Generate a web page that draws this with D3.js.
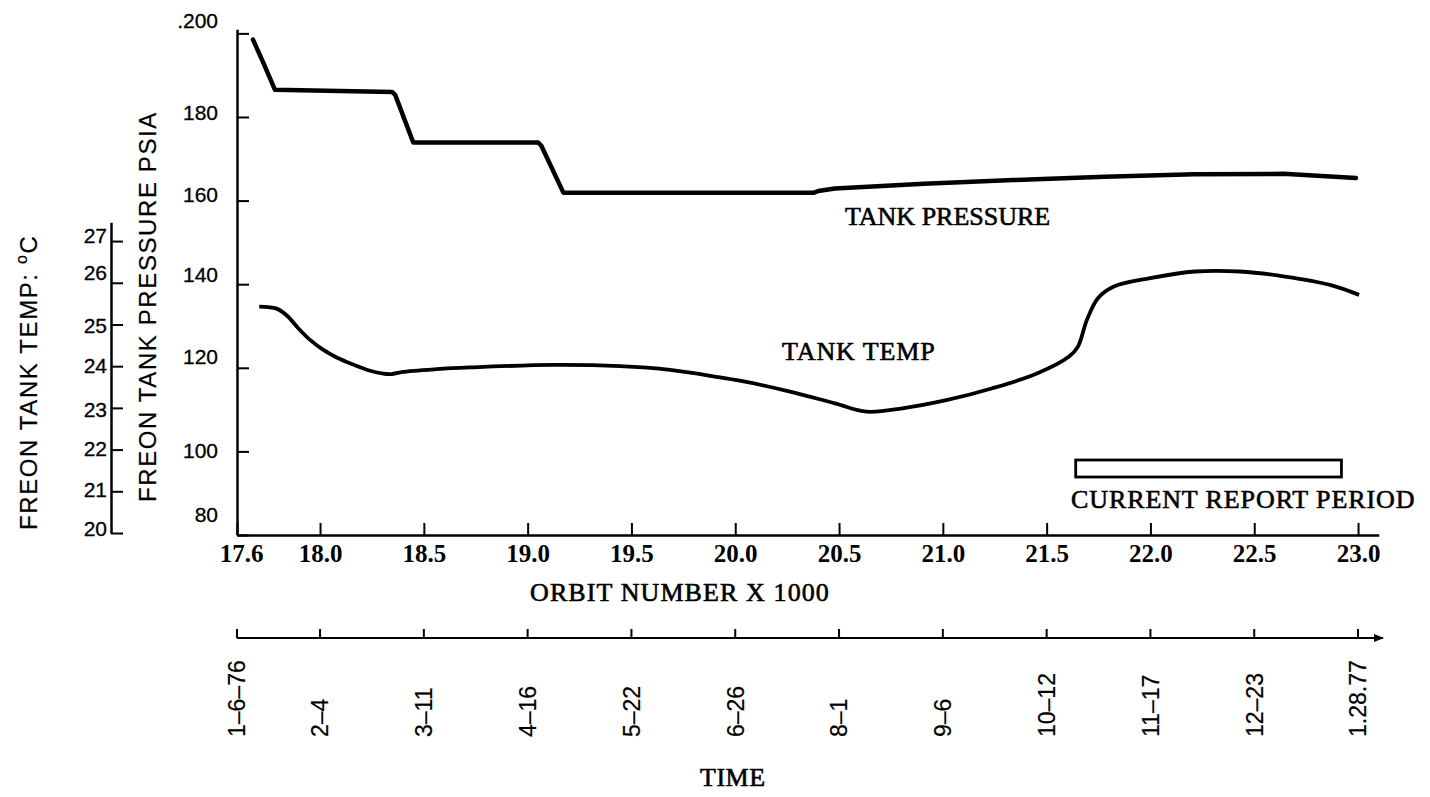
<!DOCTYPE html>
<html>
<head>
<meta charset="utf-8">
<script src="https://cdn.jsdelivr.net/npm/d3@7"></script>
<style>
  html, body { margin: 0; padding: 0; background: #fff; }
  svg { display: block; }
</style>
</head>
<body>
<svg id="chart" width="1430" height="797"></svg>
<script>
// ---- axis ticks and labels ----
const pressureTicks = [80, 100, 120, 140, 160, 180, 200];
const pressureTickLabels = ["80", "100", "120", "140", "160", "180", ".200"];
const tempTicks = [20, 21, 22, 23, 24, 25, 26, 27];
const orbitTicks = [17.6, 18.0, 18.5, 19.0, 19.5, 20.0, 20.5, 21.0, 21.5, 22.0, 22.5, 23.0];
const orbitTickLabels = ["17.6", "18.0", "18.5", "19.0", "19.5", "20.0", "20.5", "21.0", "21.5", "22.0", "22.5", "23.0"];
const timeLabels = ["1–6–76", "2–4", "3–11", "4–16", "5–22", "6–26", "8–1", "9–6", "10–12", "11–17", "12–23", "1.28.77"];

// ---- freon tank pressure (psia) vs orbit number x 1000 ----
const pressureOrbit = [17.677, 17.725, 17.783, 18.347, 18.362, 18.449, 19.051, 19.066, 19.172, 19.8, 20.38, 20.40, 20.48, 20.91, 21.34, 21.78, 22.21, 22.64, 22.99];
const pressurePsia  = [198.5, 193.2, 186.5, 186.0, 185.3, 173.9, 173.9, 173.1, 161.9, 161.9, 161.9, 162.3, 162.9, 164.0, 164.9, 165.7, 166.3, 166.4, 165.4];

// ---- freon tank temperature (deg C) vs orbit number x 1000 ----
const tempOrbit = [17.707, 17.791, 17.839, 17.895, 17.952, 18.016, 18.080, 18.160, 18.241, 18.305, 18.345, 18.393, 18.562, 18.722, 19.124, 19.445, 19.686, 19.927, 20.047, 20.264, 20.480, 20.632, 20.806, 21.022, 21.239, 21.456, 21.608, 21.651, 21.694, 21.747, 21.824, 21.998, 22.215, 22.431, 22.648, 22.865, 23.005];
const tempC     = [25.43, 25.38, 25.22, 24.91, 24.63, 24.39, 24.21, 24.04, 23.89, 23.82, 23.81, 23.86, 23.93, 23.97, 24.03, 24.00, 23.91, 23.73, 23.63, 23.39, 23.11, 22.91, 22.99, 23.19, 23.47, 23.83, 24.23, 24.47, 25.11, 25.63, 25.91, 26.11, 26.27, 26.27, 26.15, 25.95, 25.71];

// current report period (orbit x 1000)
const reportPeriod = [21.64, 22.92];

const SANS = '"Liberation Sans", Arial, Helvetica, sans-serif';
const SERIF = '"Liberation Serif", "Times New Roman", serif';

const svg = d3.select("#chart");

// ---- scales ----
const x  = d3.scaleLinear().domain([17.6, 23.1]).range([237, 1378.8]);
const yP = d3.scaleLinear().domain([80, 201]).range([535, 29.2]);
const yT = d3.scaleLinear().domain([20, 27.45]).range([533, 222.3]);

function styleAxis(g, domainW, tickW) {
  g.select(".domain").attr("stroke", "#000").attr("stroke-width", domainW);
  g.selectAll(".tick line").attr("stroke", "#000").attr("stroke-width", tickW);
  g.selectAll(".tick text").attr("fill", "#000");
}

// ---- pressure axis ----
const gP = svg.append("g")
  .attr("transform", "translate(237,0)")
  .call(d3.axisLeft(yP)
    .tickValues(pressureTicks)
    .tickFormat((d, i) => pressureTickLabels[i])
    .tickSize(-12).tickSizeOuter(0).tickPadding(19));
styleAxis(gP, 2.5, 2);
gP.selectAll(".tick text")
  .attr("font-family", SANS).attr("font-size", 21)
  .attr("stroke", "#000").attr("stroke-width", 0.3)
  .attr("y", d => ({80: -20, 100: -1, 120: -11, 140: -9, 160: -6, 180: -4, 200: -13})[d]);

// ---- temperature axis ----
const gT = svg.append("g")
  .attr("transform", "translate(111,0)")
  .call(d3.axisLeft(yT)
    .tickValues(tempTicks)
    .tickSize(-12).tickSizeOuter(0).tickPadding(4));
styleAxis(gT, 2.5, 2);
gT.selectAll(".tick text")
  .attr("font-family", SANS).attr("font-size", 21)
  .attr("stroke", "#000").attr("stroke-width", 0.3)
  .attr("y", d => ({27: -5, 26: -10, 25: 1, 24: 0, 23: 2, 22: -1, 21: -2, 20: -4})[d]);

// ---- orbit axis ----
const gX = svg.append("g")
  .attr("transform", "translate(0,535)")
  .call(d3.axisBottom(x)
    .tickValues(orbitTicks)
    .tickFormat((d, i) => orbitTickLabels[i])
    .tickSize(-12).tickSizeOuter(0).tickPadding(9));
styleAxis(gX, 2.5, 2);
gX.selectAll(".tick text")
  .attr("font-family", SERIF).attr("font-size", 25).attr("font-weight", "bold")
  .attr("dx", (d, i) => i === 0 ? 4 : 0);

// ---- data lines ----
const pressureLine = d3.line()
  .x((d, i) => x(pressureOrbit[i]))
  .y(d => yP(d))
  .curve(d3.curveLinear);
svg.append("path")
  .attr("d", pressureLine(pressurePsia))
  .attr("fill", "none").attr("stroke", "#000")
  .attr("stroke-width", 4.5).attr("stroke-linejoin", "round").attr("stroke-linecap", "round");

const tempLine = d3.line()
  .x((d, i) => x(tempOrbit[i]))
  .y(d => yT(d))
  .curve(d3.curveCatmullRom.alpha(0.5));
svg.append("path")
  .attr("d", tempLine(tempC))
  .attr("fill", "none").attr("stroke", "#000")
  .attr("stroke-width", 3.8).attr("stroke-linejoin", "round").attr("stroke-linecap", "butt");

// ---- current report period bar ----
svg.append("rect")
  .attr("x", x(reportPeriod[0])).attr("y", 460)
  .attr("width", x(reportPeriod[1]) - x(reportPeriod[0])).attr("height", 17)
  .attr("fill", "none").attr("stroke", "#000").attr("stroke-width", 2.8);

// ---- time axis ----
svg.append("defs").append("marker")
  .attr("id", "arrow").attr("viewBox", "0 0 10 10")
  .attr("refX", 9).attr("refY", 5)
  .attr("markerWidth", 5).attr("markerHeight", 5)
  .attr("markerUnits", "strokeWidth")
  .attr("orient", "auto")
  .append("path").attr("d", "M0,1 L10,5 L0,9 Z").attr("fill", "#000");

const timeY = 638;
const gTime = svg.append("g");
gTime.append("line")
  .attr("x1", x(17.6)).attr("x2", x(23.12))
  .attr("y1", timeY).attr("y2", timeY)
  .attr("stroke", "#000").attr("stroke-width", 2)
  .attr("marker-end", "url(#arrow)");
gTime.selectAll("line.tick")
  .data(orbitTicks)
  .join("line")
  .attr("class", "tick")
  .attr("x1", d => x(d)).attr("x2", d => x(d))
  .attr("y1", timeY).attr("y2", timeY - 9)
  .attr("stroke", "#000").attr("stroke-width", 2);
gTime.selectAll("text")
  .data(timeLabels)
  .join("text")
  .attr("transform", (d, i) => `translate(${x(orbitTicks[i])},737) rotate(-90)`)
  .attr("dy", "0.36em")
  .attr("font-family", SANS).attr("font-size", 23)
  .attr("stroke", "#000").attr("stroke-width", 0.2)
  .attr("text-anchor", "start")
  .text(d => d);

// ---- text annotations ----
function label(txt, px, py, size, family, spacing) {
  return svg.append("text")
    .attr("x", px).attr("y", py)
    .attr("font-family", family).attr("font-size", size)
    .attr("letter-spacing", spacing || 0)
    .attr("fill", "#000")
    .attr("stroke", "#000").attr("stroke-width", 0.6)
    .text(txt);
}
label("TANK PRESSURE", 845, 225, 26, SERIF, 0);
label("TANK TEMP", 782, 360, 26, SERIF, 0.9);
label("CURRENT REPORT PERIOD", 1071, 508, 26, SERIF, 0.9);
label("ORBIT NUMBER X  1000", 530, 601, 26, SERIF, 1.1);
label("TIME", 700, 786, 26, SERIF, 0.5);

// rotated axis titles
svg.append("text")
  .attr("transform", "translate(156,502) rotate(-90)")
  .attr("font-family", SANS).attr("font-size", 24)
  .attr("letter-spacing", 1.6)
  .attr("stroke", "#000").attr("stroke-width", 0.2)
  .attr("text-anchor", "start")
  .text("FREON TANK PRESSURE  PSIA");

const tTitle = svg.append("text")
  .attr("transform", "translate(37,530) rotate(-90)")
  .attr("font-family", SANS).attr("font-size", 24)
  .attr("letter-spacing", 1.6)
  .attr("stroke", "#000").attr("stroke-width", 0.2)
  .attr("text-anchor", "start");
tTitle.append("tspan").text("FREON TANK TEMP: ");
tTitle.append("tspan").attr("font-size", 16).attr("dy", -10).text("o");
tTitle.append("tspan").attr("dy", 10).text("C");
</script>
</body>
</html>
